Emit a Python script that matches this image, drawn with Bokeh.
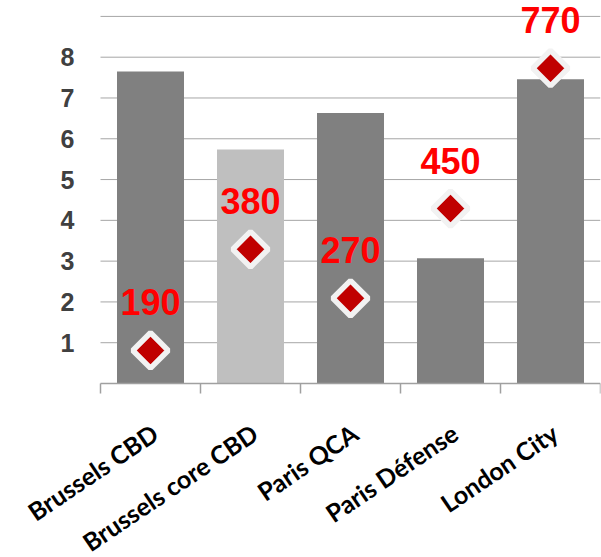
import math
import numpy as np
from bokeh.plotting import figure
from bokeh.models import ColumnDataSource, Range1d, FixedTicker, Label, LinearAxis
from bokeh.core.properties import value
from bokeh.embed import file_html
from bokeh.resources import INLINE

categories = ["Brussels CBD", "Brussels core CBD", "Paris QCA", "Paris Défense", "London City"]
bar_values = [7.65, 5.74, 6.63, 3.07, 7.46]
marker_values = [0.81, 3.29, 2.09, 4.29, 7.73]
marker_labels = ["190", "380", "270", "450", "770"]
bar_colors = ["#808080", "#bfbfbf", "#808080", "#808080", "#808080"]
y_ticks = [1, 2, 3, 4, 5, 6, 7, 8]
grid_ticks = [1, 2, 3, 4, 5, 6, 7, 8, 9]

n = len(categories)
xs = [i + 0.5 for i in range(n)]
src = ColumnDataSource(dict(x=xs, bar=bar_values, m=marker_values,
                            lab=marker_labels, color=bar_colors))
grid_src = ColumnDataSource(dict(y=grid_ticks, x0=[0] * len(grid_ticks), x1=[n] * len(grid_ticks)))

PX_PER_UNIT = 383 / 9.39
y_start = -(557 - 383) / PX_PER_UNIT

p = figure(width=601, height=557, x_range=Range1d(-1, n), y_range=Range1d(y_start, 9.39),
           output_backend="svg", toolbar_location=None,
           x_axis_location=None, y_axis_location=None,
           min_border_left=0, min_border_right=1, min_border_top=0, min_border_bottom=0)
p.outline_line_color = None
p.background_fill_color = "white"
p.border_fill_color = "white"
p.xgrid.grid_line_color = None
p.ygrid.grid_line_color = None

# horizontal gridlines across the category area
p.segment(x0="x0", x1="x1", y0="y", y1="y", line_color="#a6a6a6", line_width=1, source=grid_src)

p.vbar(x="x", top="bar", width=0.67, fill_color="color", line_color=None, source=src)
p.scatter(x="x", y="m", marker="square", size=25, angle=math.pi / 4,
          fill_color="#c00000", line_color="#f2f2f2", line_width=5.5, source=src)
p.text(x="x", y="m", text="lab", y_offset=-48, text_align="center", text_baseline="middle",
       text_color="#ff0000", text_font_size="36px", text_font_style="bold",
       text_font=value("Liberation Sans"), source=src)

# y axis at x = 0
yaxis = LinearAxis(fixed_location=0, ticker=FixedTicker(ticks=y_ticks))
yaxis.axis_line_color = None
yaxis.major_tick_line_color = None
yaxis.minor_tick_line_color = None
yaxis.major_label_text_font = "Liberation Sans"
yaxis.major_label_text_font_style = "bold"
yaxis.major_label_text_font_size = "25px"
yaxis.major_label_text_color = "#404040"
yaxis.major_label_standoff = 20
p.add_layout(yaxis, "left")

# x axis at y = 0: category separators only
xaxis = LinearAxis(fixed_location=0, ticker=FixedTicker(ticks=[], minor_ticks=list(range(n + 1))))
xaxis.bounds = (0, n)
xaxis.axis_line_color = "#a0a0a0"
xaxis.axis_line_width = 1.5
xaxis.major_tick_line_color = None
xaxis.minor_tick_line_color = "#a0a0a0"
xaxis.minor_tick_line_width = 1.5
xaxis.minor_tick_out = 10
xaxis.minor_tick_in = 0
p.add_layout(xaxis, "below")

# rotated category labels
for xv, name in zip(xs, categories):
    p.add_layout(Label(x=xv, y=0, text=name,
                       angle=math.radians(34), text_align="right", text_baseline="top",
                       y_offset=-34, x_offset=-4,
                       text_font="Lato", text_font_style="bold",
                       text_font_size="25px", text_color="#000000"))

open("out.html", "w").write(file_html(p, INLINE))
